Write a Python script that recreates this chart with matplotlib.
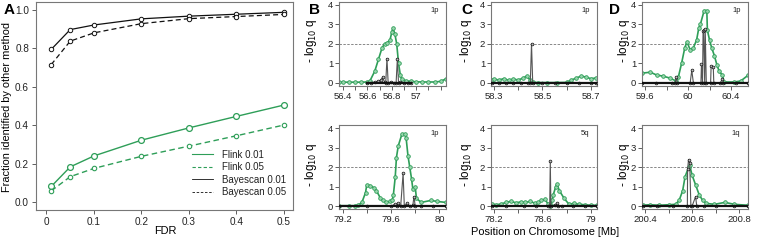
import matplotlib
matplotlib.use("Agg")
import matplotlib.pyplot as plt
from matplotlib.ticker import FixedLocator
from matplotlib.lines import Line2D

plt.rcParams['font.family'] = ['Liberation Sans', 'DejaVu Sans']

W, H = 757, 240
GREEN = '#2e9e58'
GREEN_FILL = '#9ad6ae'
SPINE = '#777777'
LABEL_SIZE = 7.9

# ---------------- Panel A data ----------------
fdr = [0.01, 0.05, 0.1, 0.2, 0.3, 0.4, 0.5]
flink_001 = [0.081, 0.183, 0.240, 0.322, 0.386, 0.446, 0.505]
flink_005 = [0.058, 0.132, 0.175, 0.238, 0.291, 0.345, 0.401]
bayes_001 = [0.795, 0.898, 0.922, 0.954, 0.968, 0.978, 0.988]
bayes_005 = [0.716, 0.838, 0.881, 0.929, 0.955, 0.966, 0.977]
legend_labels = ['Flink 0.01', 'Flink 0.05', 'Bayescan 0.01', 'Bayescan 0.05']

# ---------------- Locus panels data ----------------
# B top (chr 1p)
b1_f_pos = [56.37, 56.40, 56.45, 56.50, 56.55, 56.60, 56.62, 56.66, 56.69, 56.72, 56.74, 56.76,
            56.785, 56.80, 56.81, 56.825, 56.84, 56.855, 56.87, 56.88, 56.92, 56.96, 57.00,
            57.05, 57.10, 57.15, 57.20, 57.24]
b1_f_q = [0.04, 0.04, 0.04, 0.04, 0.04, 0.05, 0.10, 0.60, 1.20, 1.80, 2.00, 2.05,
          2.20, 2.60, 2.80, 2.50, 2.00, 1.00, 0.40, 0.20, 0.10, 0.08, 0.06,
          0.05, 0.05, 0.05, 0.08, 0.20]
b1_b_pos = [56.60, 56.63, 56.66, 56.69, 56.71, 56.725, 56.74, 56.75, 56.76, 56.77, 56.79,
            56.82, 56.835, 56.845, 56.855, 56.87, 56.90, 56.93, 56.96]
b1_b_q = [0.0, 0.02, 0.05, 0.08, 0.15, 0.30, 0.05, 0.0, 1.25, 0.0, 0.05,
          0.02, 0.0, 1.20, 0.0, 0.05, 0.02, 0.0, 0.0]

# C top (chr 1p)
c1_f_pos = [58.29, 58.30, 58.32, 58.34, 58.36, 58.38, 58.40, 58.42, 58.435, 58.45, 58.46,
            58.48, 58.52, 58.56, 58.60, 58.62, 58.64, 58.66, 58.68, 58.70, 58.72]
c1_f_q = [0.15, 0.20, 0.15, 0.22, 0.14, 0.20, 0.15, 0.25, 0.35, 0.15, 0.03,
          0.02, 0.02, 0.02, 0.03, 0.15, 0.25, 0.35, 0.30, 0.22, 0.25]
c1_b_pos = [58.29, 58.32, 58.35, 58.38, 58.41, 58.44, 58.45, 58.455, 58.46, 58.50,
            58.55, 58.60, 58.65, 58.70, 58.72]
c1_b_q = [0.0, 0.02, 0.0, 0.02, 0.0, 0.02, 0.0, 2.00, 0.0, 0.02,
          0.0, 0.02, 0.0, 0.02, 0.0]

# D top (chr 1p)
d1_f_pos = [59.57, 59.65, 59.71, 59.77, 59.83, 59.89, 59.91, 59.94, 59.97, 59.99, 60.02,
            60.05, 60.08, 60.10, 60.115, 60.15, 60.175, 60.18, 60.20, 60.22, 60.245,
            60.27, 60.29, 60.32, 60.335, 60.43, 60.49, 60.56]
d1_f_q = [0.50, 0.55, 0.40, 0.35, 0.25, 0.10, 0.30, 1.00, 1.80, 2.10, 1.70,
          1.80, 2.20, 2.80, 3.00, 3.70, 3.70, 2.70, 2.20, 1.80, 1.40,
          0.90, 0.60, 0.40, 0.05, 0.05, 0.10, 0.40]
d1_b_pos = [59.57, 59.70, 59.85, 59.88, 59.89, 59.90, 60.02, 60.035, 60.05, 60.12, 60.125,
            60.135, 60.14, 60.145, 60.155, 60.16, 60.17, 60.21, 60.215, 60.235, 60.24,
            60.30, 60.32, 60.33, 60.45, 60.56]
d1_b_q = [0.0, 0.0, 0.0, 0.0, 0.30, 0.0, 0.0, 0.65, 0.0, 0.0, 0.95,
          0.0, 2.65, 2.70, 0.0, 2.75, 0.0, 0.0, 0.85, 0.80, 0.0,
          0.0, 0.20, 0.0, 0.0, 0.0]

# B bottom (chr 1p)
b2_f_pos = [79.17, 79.25, 79.30, 79.33, 79.36, 79.39, 79.40, 79.43, 79.46, 79.48, 79.51,
            79.53, 79.56, 79.59, 79.61, 79.62, 79.635, 79.645, 79.66, 79.69, 79.715, 79.725,
            79.74, 79.755, 79.77, 79.78, 79.80, 79.81, 79.85, 79.93, 79.98, 80.05]
b2_f_q = [0.03, 0.03, 0.03, 0.05, 0.20, 0.70, 1.10, 1.05, 0.95, 0.80, 0.45,
          0.30, 0.20, 0.25, 0.30, 0.60, 1.50, 2.50, 3.10, 3.70, 3.70, 3.50,
          2.60, 2.00, 1.40, 0.90, 1.00, 0.40, 0.20, 0.30, 0.25, 0.20]
b2_b_pos = [79.17, 79.40, 79.60, 79.63, 79.65, 79.66, 79.68, 79.70, 79.71, 79.73, 79.76,
            79.78, 79.79, 79.80, 79.85, 79.95, 80.05]
b2_b_q = [0.0, 0.0, 0.0, 0.10, 0.0, 0.15, 0.0, 1.70, 0.0, 0.15, 0.0,
          0.05, 0.50, 0.0, 0.0, 0.0, 0.0]

# C bottom (chr 5q)
c2_f_pos = [78.18, 78.22, 78.26, 78.30, 78.34, 78.38, 78.42, 78.46, 78.50, 78.54, 78.56,
            78.59, 78.62, 78.65, 78.66, 78.67, 78.68, 78.69, 78.71, 78.72, 78.74, 78.78,
            78.82, 78.86, 78.90, 78.95, 79.00, 79.05]
c2_f_q = [0.10, 0.08, 0.12, 0.20, 0.25, 0.18, 0.22, 0.20, 0.25, 0.15, 0.20,
          0.30, 0.35, 0.10, 0.02, 0.05, 0.30, 0.60, 1.00, 1.15, 0.80, 0.40,
          0.10, 0.15, 0.10, 0.08, 0.05, 0.05]
c2_b_pos = [78.18, 78.30, 78.45, 78.55, 78.65, 78.66, 78.665, 78.67, 78.70, 78.72,
            78.73, 78.76, 78.85, 78.95, 79.05]
c2_b_q = [0.0, 0.0, 0.02, 0.0, 0.02, 0.0, 2.30, 0.0, 0.05, 0.15,
          0.0, 0.0, 0.02, 0.0, 0.0]

# D bottom (chr 1q)
d2_f_pos = [200.39, 200.42, 200.46, 200.50, 200.53, 200.545, 200.56, 200.57, 200.585, 200.59,
            200.60, 200.615, 200.63, 200.645, 200.66, 200.695, 200.74, 200.78, 200.84]
d2_f_q = [0.05, 0.08, 0.05, 0.08, 0.10, 0.30, 0.80, 1.50, 2.00, 2.10,
          1.60, 1.10, 0.60, 0.30, 0.15, 0.10, 0.20, 0.10, 0.05]
d2_b_pos = [200.39, 200.45, 200.52, 200.58, 200.581, 200.585, 200.59, 200.595, 200.60,
            200.615, 200.62, 200.65, 200.70, 200.78, 200.84]
d2_b_q = [0.0, 0.0, 0.0, 0.0, 1.90, 2.40, 2.20, 0.0, 0.0,
          0.50, 0.0, 0.0, 0.02, 0.0, 0.0]

loci = [
    dict(box=(339, 1.6, 446, 86.1), xlim=(56.367, 57.244),
         ticks=[56.4, 56.6, 56.8, 57.0], labels=['56.4', '56.6', '56.8', '57'],
         minor=[56.5, 56.7, 56.9, 57.1, 57.2],
         f=(b1_f_pos, b1_f_q), b=(b1_b_pos, b1_b_q), arm='1p', letter='B', ylx=311),
    dict(box=(491, 1.6, 597, 86.1), xlim=(58.2876, 58.7256),
         ticks=[58.3, 58.5, 58.7], labels=['58.3', '58.5', '58.7'],
         minor=[58.4, 58.6],
         f=(c1_f_pos, c1_f_q), b=(c1_b_pos, c1_b_q), arm='1p', letter='C', ylx=466),
    dict(box=(642, 1.6, 748, 86.1), xlim=(59.572, 60.558),
         ticks=[59.6, 60.0, 60.4], labels=['59.6', '60', '60.4'],
         minor=[59.8, 60.2],
         f=(d1_f_pos, d1_f_q), b=(d1_b_pos, d1_b_q), arm='1p', letter='D', ylx=624),
    dict(box=(339, 125.2, 446, 209.4), xlim=(79.171, 80.054),
         ticks=[79.2, 79.6, 80.0], labels=['79.2', '79.6', '80'],
         minor=[79.4, 79.8],
         f=(b2_f_pos, b2_f_q), b=(b2_b_pos, b2_b_q), arm='1p', letter=None, ylx=311),
    dict(box=(491, 125.2, 597, 209.4), xlim=(78.175, 79.051),
         ticks=[78.2, 78.6, 79.0], labels=['78.2', '78.6', '79'],
         minor=[78.4, 78.8],
         f=(c2_f_pos, c2_f_q), b=(c2_b_pos, c2_b_q), arm='5q', letter=None, ylx=466),
    dict(box=(642, 125.2, 748, 209.4), xlim=(200.387, 200.838),
         ticks=[200.4, 200.6, 200.8], labels=['200.4', '200.6', '200.8'],
         minor=[200.5, 200.7],
         f=(d2_f_pos, d2_f_q), b=(d2_b_pos, d2_b_q), arm='1q', letter=None, ylx=624),
]

fig = plt.figure(figsize=(W / 100, H / 100), dpi=100)


def ax_px(x0, y0, x1, y1):
    return fig.add_axes([x0 / W, 1 - y1 / H, (x1 - x0) / W, (y1 - y0) / H])


def style_box(ax, size=6.8):
    for s in ax.spines.values():
        s.set_color(SPINE)
        s.set_linewidth(0.8)
    ax.tick_params(direction='out', length=3, width=0.6, color='#444444',
                   labelsize=size, pad=1.2, labelcolor='#222222')
    ax.tick_params(which='minor', direction='out', length=3, width=0.6, color='#444444')


# ---------------- Panel A ----------------
axA = ax_px(36, 2, 293, 210)
style_box(axA, 7.2)
axA.plot(fdr, flink_001, '-', color=GREEN, lw=1.0, marker='o', ms=4.2, mfc='white', mec=GREEN, mew=0.9)
axA.plot(fdr, flink_005, '--', color=GREEN, lw=1.0, marker='o', ms=3.2, mfc='white', mec=GREEN, mew=0.8,
         dashes=(4, 2.5))
axA.plot(fdr, bayes_001, '-', color='#111111', lw=0.9, marker='o', ms=3.2, mfc='white', mec='#111111', mew=0.7)
axA.plot(fdr, bayes_005, '--', color='#111111', lw=0.9, marker='o', ms=3.2, mfc='white', mec='#111111', mew=0.7,
         dashes=(4, 2.5))
axA.set_xlim(-0.0221, 0.519)
axA.set_ylim(-0.0417, 1.0417)
axA.set_xticks([0, 0.1, 0.2, 0.3, 0.4, 0.5])
axA.set_xticklabels(['0', '0.1', '0.2', '0.3', '0.4', '0.5'])
axA.set_yticks([0, 0.2, 0.4, 0.6, 0.8, 1.0])
axA.set_yticklabels(['0.0', '0.2', '0.4', '0.6', '0.8', '1.0'])
axA.tick_params(pad=2)
fig.text(7 / W, 1 - 107 / H, 'Fraction identified by other method', fontsize=LABEL_SIZE,
         rotation=90, ha='center', va='center')
fig.text(165 / W, 1 - 231 / H, 'FDR', fontsize=LABEL_SIZE, ha='center', va='center')

handles = [Line2D([], [], color=GREEN, lw=0.8),
           Line2D([], [], color=GREEN, lw=0.8, ls=(0, (3, 2))),
           Line2D([], [], color='#111111', lw=0.6),
           Line2D([], [], color='#111111', lw=0.6, ls=(0, (3, 2)))]
leg = axA.legend(handles, legend_labels, loc='lower right', frameon=False, fontsize=7.0,
                 handlelength=2.2, handletextpad=0.9, labelspacing=0.25,
                 bbox_to_anchor=(1.0, 0.03), borderaxespad=0.3)
for t in leg.get_texts():
    t.set_color('#222222')

fig.text(9 / W, 1 - 10 / H, 'A', fontsize=11, fontweight='bold', ha='center', va='center')

# ---------------- Locus panels ----------------
for L in loci:
    ax = ax_px(*L['box'])
    style_box(ax)
    ax.axhline(2.0, color='#888888', lw=0.7, ls=(0, (2.5, 1.5)), zorder=1)
    fp, fq = L['f']
    ax.plot(fp, fq, '-', color=GREEN, lw=1.2, marker='o', ms=2.6, mfc=GREEN_FILL, mec=GREEN, mew=0.6,
            zorder=2)
    bp, bq = L['b']
    ax.plot(bp, bq, '-', color='#555555', lw=0.8, marker='o', ms=2.0, mfc='#bbbbbb', mec='#111111', mew=0.5,
            zorder=3)
    ax.plot(bp, [0] * len(bp), '-', color='#111111', lw=1.6, zorder=3)
    ax.set_xlim(*L['xlim'])
    ax.set_ylim(-0.16, 4.16)
    ax.set_yticks([0, 1, 2, 3, 4])
    ax.set_xticks(L['ticks'])
    ax.set_xticklabels(L['labels'])
    ax.xaxis.set_minor_locator(FixedLocator(L['minor']))
    ax.text(0.93, 0.9, L['arm'], transform=ax.transAxes, fontsize=5.5, ha='right', va='center',
            color='#222222')
    x0, y0, x1, y1 = L['box']
    yc = (y0 + y1) / 2 - 3
    fig.text(L['ylx'] / W, 1 - yc / H, r'- log$_{10}$ q', rotation=90, fontsize=8.4,
             ha='center', va='center')
    if L['letter']:
        lx = {'B': 315, 'C': 467, 'D': 615}[L['letter']]
        fig.text(lx / W, 1 - 10 / H, L['letter'], fontsize=11, fontweight='bold', ha='center', va='center')

fig.text(545 / W, 1 - 232 / H, 'Position on Chromosome [Mb]', fontsize=LABEL_SIZE, ha='center', va='center')

fig.savefig('out.png', dpi=100)
